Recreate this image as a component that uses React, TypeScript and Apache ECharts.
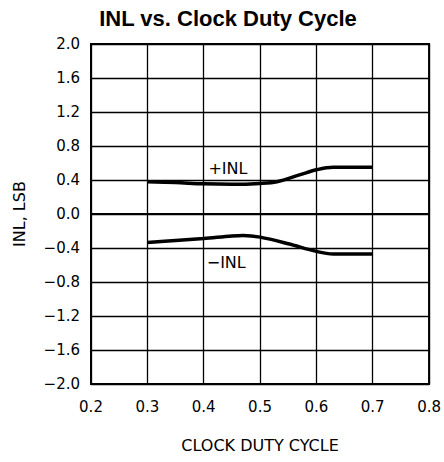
import React, { useEffect, useRef } from "react";
import * as echarts from "echarts";

const titleText = "INL vs. Clock Duty Cycle";
const xAxisName = "CLOCK DUTY CYCLE";
const yAxisName = "INL, LSB";

const plusInlX = [0.3, 0.35, 0.4, 0.45, 0.5, 0.53, 0.57, 0.6, 0.63, 0.7];
const plusInlY = [0.38, 0.37, 0.355, 0.35, 0.36, 0.38, 0.46, 0.52, 0.55, 0.55];

const minusInlX = [0.3, 0.35, 0.4, 0.45, 0.47, 0.5, 0.55, 0.6, 0.63, 0.7];
const minusInlY = [-0.335, -0.312, -0.288, -0.258, -0.252, -0.272, -0.35, -0.44, -0.47, -0.47];

const plusLabel = { text: "+INL", x: 0.443, y: 0.53 };
const minusLabel = { text: "\u2212INL", x: 0.44, y: -0.57 };

const fmt = (v: number) => {
  const s = Math.abs(v).toFixed(1);
  return v < -1e-9 ? "\u2212" + s : s;
};

export default function App() {
  const ref = useRef<HTMLDivElement>(null);
  useEffect(() => {
    if (!ref.current) return;
    const chart = echarts.init(ref.current, undefined, { renderer: "svg" });
    const font = "DejaVu Sans";
    const mkLabel = (l: { text: string; x: number; y: number }) => ({
      symbol: "circle",
      symbolSize: 2,
      silent: true,
      itemStyle: { color: "rgba(0,0,0,0)" },
      label: {
        show: true,
        position: "inside",
        formatter: l.text,
        color: "#000",
        fontFamily: font,
        fontSize: 16,
      },
      data: [{ coord: [l.x, l.y] }],
    });
    chart.setOption({
      animation: false,
      backgroundColor: "#fff",
      title: {
        text: titleText,
        left: 223,
        top: 2,
        textAlign: "center",
        textStyle: {
          fontFamily: "Liberation Sans",
          fontWeight: "bold",
          fontSize: 22,
          color: "#000",
        },
      },
      grid: {
        left: 91,
        top: 44,
        width: 340,
        height: 340,
        show: true,
        borderColor: "#000",
        borderWidth: 2,
        backgroundColor: "transparent",
      },
      xAxis: {
        type: "value",
        min: 0.2,
        max: 0.8,
        interval: 0.1,
        name: xAxisName,
        nameLocation: "middle",
        nameGap: 53,
        nameTextStyle: { fontFamily: font, fontSize: 16, color: "#000" },
        axisLine: { show: true, lineStyle: { color: "#000", width: 2 } },
        axisTick: { show: false },
        axisLabel: {
          margin: 15,
          fontFamily: font,
          fontSize: 15,
          color: "#000",
          formatter: (v: number) => fmt(v),
        },
        splitLine: { show: true, lineStyle: { color: "#000", width: 1.3 } },
      },
      yAxis: {
        type: "value",
        min: -2,
        max: 2,
        interval: 0.4,
        name: yAxisName,
        nameLocation: "middle",
        nameGap: 64,
        nameTextStyle: { fontFamily: font, fontSize: 16, color: "#000" },
        axisLine: { show: true, lineStyle: { color: "#000", width: 2 } },
        axisTick: { show: false },
        axisLabel: {
          margin: 11,
          fontFamily: font,
          fontSize: 15,
          color: "#000",
          formatter: (v: number) => fmt(v),
        },
        splitLine: { show: true, lineStyle: { color: "#000", width: 1.3 } },
      },
      series: [
        {
          name: "+INL",
          type: "line",
          smooth: 0.35,
          showSymbol: false,
          lineStyle: { color: "#000", width: 3.5 },
          data: plusInlX.map((x, i) => [x, plusInlY[i]]),
          markPoint: mkLabel(plusLabel),
        },
        {
          name: "-INL",
          type: "line",
          smooth: 0.35,
          showSymbol: false,
          lineStyle: { color: "#000", width: 3.5 },
          data: minusInlX.map((x, i) => [x, minusInlY[i]]),
          markPoint: mkLabel(minusLabel),
        },
      ],
    });
    return () => chart.dispose();
  }, []);
  return (
    <div
      ref={ref}
      style={{ position: "fixed", left: 0, top: 0, width: 444, height: 462 }}
    />
  );
}
